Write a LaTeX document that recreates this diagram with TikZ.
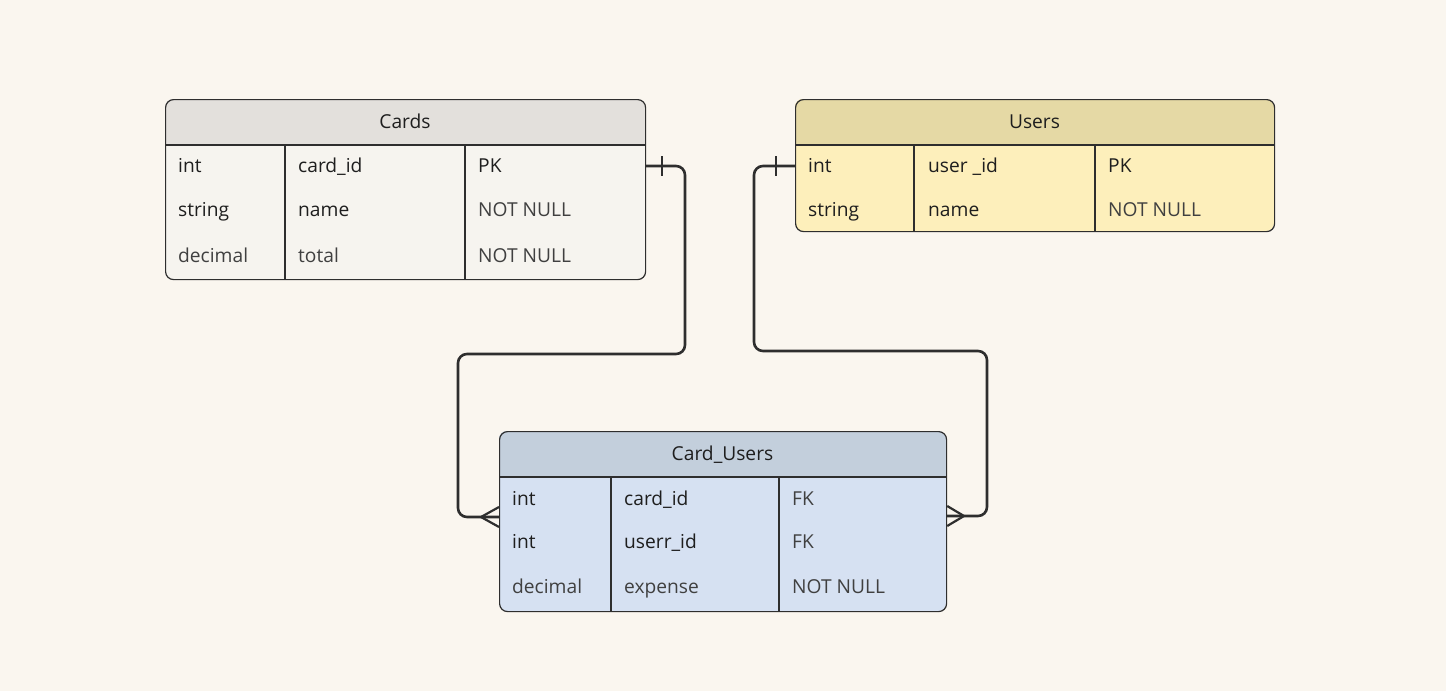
\documentclass[tikz,border=0pt]{standalone}
\usepackage{fontspec}
\setmainfont{Open Sans}
\definecolor{bg}{HTML}{FAF6EF}
\definecolor{cardshdr}{HTML}{E3E0DC}
\definecolor{cardsbody}{HTML}{F6F4EF}
\definecolor{usershdr}{HTML}{E5D9A5}
\definecolor{usersbody}{HTML}{FDEFBB}
\definecolor{cuhdr}{HTML}{C3CFDC}
\definecolor{cubody}{HTML}{D6E1F2}
\definecolor{ink}{HTML}{1E1E1E}
\definecolor{inkgray}{HTML}{404040}
\definecolor{edge}{HTML}{2E2E2E}
\tikzset{
  tbl/.style={draw=edge, line width=1.2pt, rounded corners=8pt, inner sep=0pt, anchor=north west},
  divider/.style={draw=edge, line width=1.2pt},
  cell/.style={anchor=base west, inner sep=0pt, text=ink, font=\fontsize{19.2}{23}\selectfont},
  cellg/.style={cell, text=inkgray},
  hdr/.style={anchor=base, inner sep=0pt, text=ink, font=\fontsize{19.2}{23}\selectfont},
  conn/.style={draw=edge, line width=2.6pt, rounded corners=9pt},
  relmark/.style={draw=edge, line width=2.2pt},
}
\begin{document}
\begin{tikzpicture}[x=1pt,y=-1pt]
\useasboundingbox[fill=bg] (0,0) rectangle (1446,691);

% ---------- Cards ----------
\begin{scope}
\clip[rounded corners=8pt] (165,99) rectangle (645,279);
\fill[cardsbody] (165,99) rectangle (645,279);
\fill[cardshdr] (165,99) rectangle (645,145);
\end{scope}
\draw[divider] (165,145) -- (645,145) (285,145) -- (285,279) (465,145) -- (465,279);
\node[tbl, minimum width=480pt, minimum height=180pt] (cards) at (165,99) {};
\node[hdr] (cardsT) at (405,128) {Cards};
\node[cell] (c11) at (178,172) {int};
\node[cell] (c12) at (298,172) {card\_id};
\node[cell] (c13) at (478,172) {PK};
\node[cell] (c21) at (178,216) {string};
\node[cell] (c22) at (298,216) {name};
\node[cellg] (c23) at (478,216) {NOT NULL};
\node[cellg] (c31) at (178,262) {decimal};
\node[cellg] (c32) at (298,262) {total};
\node[cellg] (c33) at (478,262) {NOT NULL};

% ---------- Users ----------
\begin{scope}
\clip[rounded corners=8pt] (795,99) rectangle (1274,231);
\fill[usersbody] (795,99) rectangle (1274,231);
\fill[usershdr] (795,99) rectangle (1274,145);
\end{scope}
\draw[divider] (795,145) -- (1274,145) (914,145) -- (914,231) (1095,145) -- (1095,231);
\node[tbl, minimum width=479pt, minimum height=132pt] (users) at (795,99) {};
\node[hdr] (usersT) at (1034.5,128) {Users};
\node[cell] (u11) at (808,172) {int};
\node[cell] (u12) at (928,172) {user \_id};
\node[cell] (u13) at (1108,172) {PK};
\node[cell] (u21) at (808,216) {string};
\node[cell] (u22) at (928,216) {name};
\node[cellg] (u23) at (1108,216) {NOT NULL};

% ---------- Card_Users ----------
\begin{scope}
\clip[rounded corners=8pt] (499,431) rectangle (946,611);
\fill[cubody] (499,431) rectangle (946,611);
\fill[cuhdr] (499,431) rectangle (946,477);
\end{scope}
\draw[divider] (499,477) -- (946,477) (611,477) -- (611,611) (779,477) -- (779,611);
\node[tbl, minimum width=447pt, minimum height=180pt] (cu) at (499,431) {};
\node[hdr] (cuT) at (722.5,460) {Card\_Users};
\node[cell] (k11) at (512,505) {int};
\node[cell] (k12) at (624,505) {card\_id};
\node[cellg] (k13) at (792,505) {FK};
\node[cell] (k21) at (512,548) {int};
\node[cell] (k22) at (624,548) {userr\_id};
\node[cellg] (k23) at (792,548) {FK};
\node[cellg] (k31) at (512,593) {decimal};
\node[cellg] (k32) at (624,593) {expense};
\node[cellg] (k33) at (792,593) {NOT NULL};

% ---------- connector anchors ----------
\coordinate (cardsR) at (cards.east |- 0,166);
\coordinate (usersL) at (users.west |- 0,166);
\coordinate (cuL) at (cu.west |- 0,517);
\coordinate (cuR) at (cu.east |- 0,516);

% Cards (one) -> Card_Users (many)
\draw[conn] (cardsR) -- (685,166) -- (685,354) -- (458,354) -- (458,517) -- (cuL);
\draw[relmark] (662,156) -- (662,176);
\draw[relmark] (cuL |- 0,507) -- (481,517) -- (cuL |- 0,527);

% Users (one) -> Card_Users (many)
\draw[conn] (usersL) -- (754,166) -- (754,351) -- (987,351) -- (987,516) -- (cuR);
\draw[relmark] (776,156) -- (776,176);
\draw[relmark] (cuR |- 0,506) -- (964,516) -- (cuR |- 0,526);
\end{tikzpicture}
\end{document}
